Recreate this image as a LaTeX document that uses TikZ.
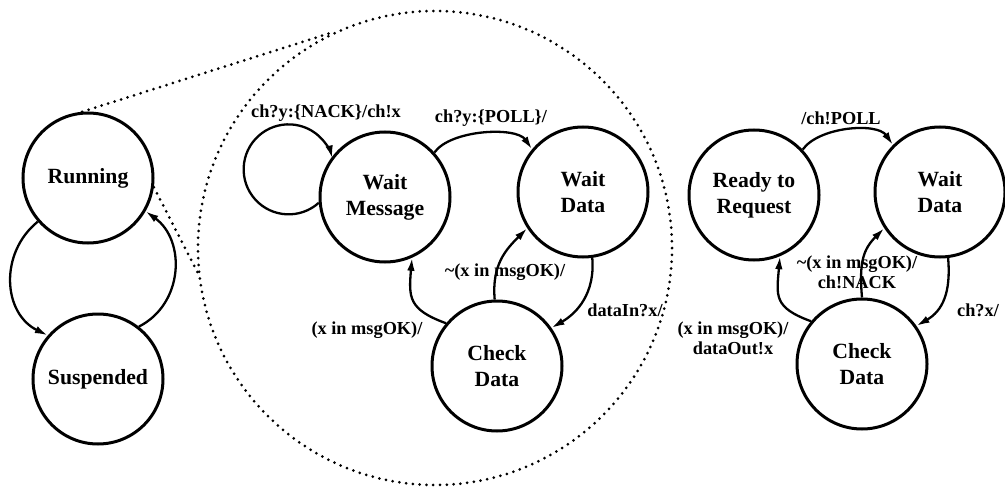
\documentclass[tikz,border=0pt]{standalone}
\usepackage{fontspec}
\setmainfont{Liberation Serif}
\usetikzlibrary{arrows.meta}
\begin{document}
\begin{tikzpicture}[x=1pt,y=1pt]
\tikzset{
  state/.style={circle, draw, line width=3pt, minimum size=130pt, inner sep=0pt,
    font=\bfseries\fontsize{21.7}{26}\selectfont, align=center},
  trans/.style={line width=2.3pt, -{Latex[length=13pt,width=7.5pt]}},
  lbl/.style={font=\bfseries\fontsize{18.3}{20}\selectfont, align=center, inner sep=0pt},
  dots/.style={line width=3pt, dash pattern=on 0pt off 6.8pt, line cap=round}
}
\fill[white] (0,0) rectangle (1005,-487);
\path[use as bounding box] (0,0) rectangle (1005,-487);

% process states
\node[state] (run) at (88,-178) {Running};
\node[state] (susp) at (98,-379) {Suspended};

% refinement of the running state
\node[circle, draw, dots, minimum size=474pt, inner sep=0pt] (detail) at (435,-248) {};
\draw[dots] (run.95) -- (detail.115);
\draw[dots] (run.-8) -- (detail.186);

\node[state] (wm) at (385,-197) {Wait\\Message};
\node[state] (wd) at (583,-192) {Wait\\Data};
\node[state] (cd) at (497,-366) {Check\\Data};

% requester side
\node[state] (rr) at (754,-195) {Ready to\\Request};
\node[state] (wd2) at (940,-192) {Wait\\Data};
\node[state] (cd2) at (862,-364) {Check\\Data};

% running / suspended
\draw[trans] (run.221) .. controls +(219:50) and +(154:50) .. (susp.139);
\draw[trans] (susp.52) .. controls +(27:50) and +(-36:50) .. (run.-30);

% receiver transitions
\draw[trans] (wm.185) arc[start angle=-48, end angle=-346, radius=45];
\node[lbl] (lnack) at (326,-113) {ch?y:\{NACK\}/ch!x};
\draw[trans] (wm.42) .. controls +(55:28) and +(125:28) .. (wd.140);
\node[lbl] (lpoll) at (491,-118) {ch?y:\{POLL\}/};
\draw[trans] (wd.-82) .. controls +(-85:35) and +(30:30) .. (cd.35);
\node[lbl] (ldin) at (625,-310) {dataIn?x/};
\draw[trans] (cd.92) .. controls +(95:35) and +(225:30) .. (wd.213);
\node[lbl] (lbad) at (505,-272) {\textasciitilde(x in msgOK)/};
\draw[trans] (cd.140) .. controls +(160:40) and +(-95:40) .. (wm.-66);
\node[lbl] (lok) at (367,-330) {(x in msgOK)/};

% requester transitions
\draw[trans] (rr.43) .. controls +(55:28) and +(125:28) .. (wd2.135);
\node[lbl] (lreq) at (841,-118) {/ch!POLL};
\draw[trans] (wd2.-83) .. controls +(-85:35) and +(30:30) .. (cd2.35);
\node[lbl] (lrx) at (978,-310) {ch?x/};
\draw[trans] (cd2.90) .. controls +(95:35) and +(225:30) .. (wd2.213);
\node[lbl] (lbad2) at (857,-272) {\textasciitilde(x in msgOK)/\\ch!NACK};
\draw[trans] (cd2.140) .. controls +(160:40) and +(-95:40) .. (rr.-67);
\node[lbl] (lok2) at (733,-338) {(x in msgOK)/\\dataOut!x};
\end{tikzpicture}
\end{document}
